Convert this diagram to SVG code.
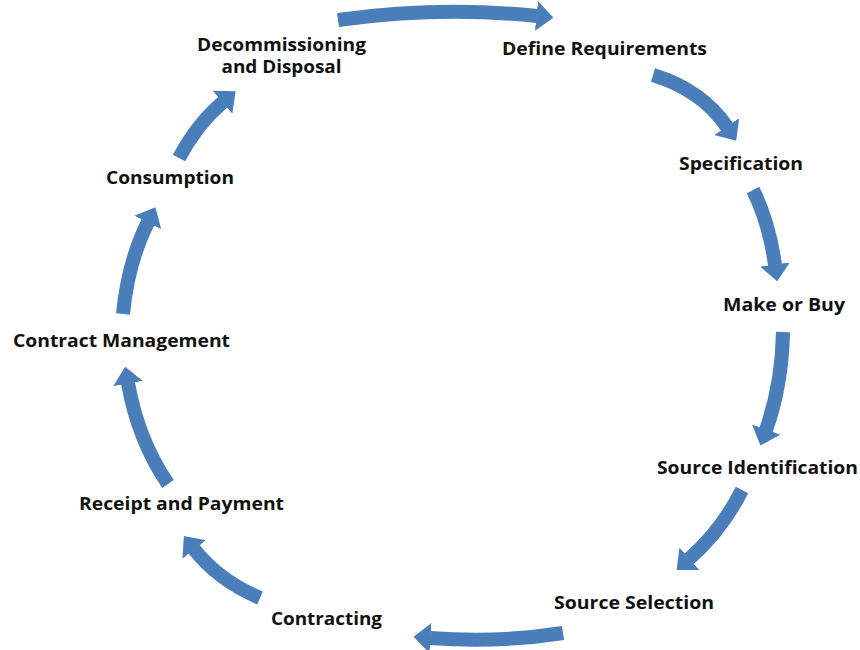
<svg xmlns="http://www.w3.org/2000/svg" width="860" height="650" viewBox="0 0 860 650">
<style>
.lbl{font-family:"Open Sans","Liberation Sans",sans-serif;font-weight:bold;font-size:18px;fill:#111;}
.arr{fill:none;stroke:#4A7EBB;stroke-width:14;stroke-linecap:butt;marker-end:url(#head);}
</style>
<defs>
<marker id="head" viewBox="0 0 17 30" refX="0.5" refY="15" markerWidth="17" markerHeight="30" markerUnits="userSpaceOnUse" orient="auto">
<path d="M0,0 L17,15 L0,30 Z" fill="#4A7EBB"/>
</marker>
</defs>
<rect width="860" height="650" fill="#fff"/>
<g id="connectors">
<path class="arr" d="M338,20 Q440,6 537,16"/>
<path class="arr" d="M653,75 Q702,90 727,127"/>
<path class="arr" d="M753,190 Q769,222 775,265"/>
<path class="arr" d="M783,332 Q782,385 766,430"/>
<path class="arr" d="M742,490 Q722,530 689,559"/>
<path class="arr" d="M563,633 Q500,643 430,638"/>
<path class="arr" d="M260,598 Q218,580 194,549"/>
<path class="arr" d="M168,484 Q138,440 128,383"/>
<path class="arr" d="M123,314 Q128,262 148,222"/>
<path class="arr" d="M179,158 Q197,124 223,102"/>
</g>
<g id="n-decommissioning"><text class="lbl" x="281.5" y="51" text-anchor="middle" textLength="169" lengthAdjust="spacingAndGlyphs">Decommissioning</text><text class="lbl" x="281.5" y="73" text-anchor="middle" textLength="120" lengthAdjust="spacingAndGlyphs">and Disposal</text></g>
<g id="n-define"><text class="lbl" x="502" y="55" textLength="205" lengthAdjust="spacingAndGlyphs">Define Requirements</text></g>
<g id="n-spec"><text class="lbl" x="679" y="170" textLength="124" lengthAdjust="spacingAndGlyphs">Specification</text></g>
<g id="n-make"><text class="lbl" x="723" y="311" textLength="122" lengthAdjust="spacingAndGlyphs">Make or Buy</text></g>
<g id="n-sourceid"><text class="lbl" x="657" y="474" textLength="201" lengthAdjust="spacingAndGlyphs">Source Identification</text></g>
<g id="n-sourcesel"><text class="lbl" x="554" y="609" textLength="160" lengthAdjust="spacingAndGlyphs">Source Selection</text></g>
<g id="n-contracting"><text class="lbl" x="271" y="625" textLength="111" lengthAdjust="spacingAndGlyphs">Contracting</text></g>
<g id="n-receipt"><text class="lbl" x="79" y="510" textLength="205" lengthAdjust="spacingAndGlyphs">Receipt and Payment</text></g>
<g id="n-contractmgmt"><text class="lbl" x="13" y="347" textLength="217" lengthAdjust="spacingAndGlyphs">Contract Management</text></g>
<g id="n-consumption"><text class="lbl" x="106" y="184" textLength="128" lengthAdjust="spacingAndGlyphs">Consumption</text></g>
</svg>
